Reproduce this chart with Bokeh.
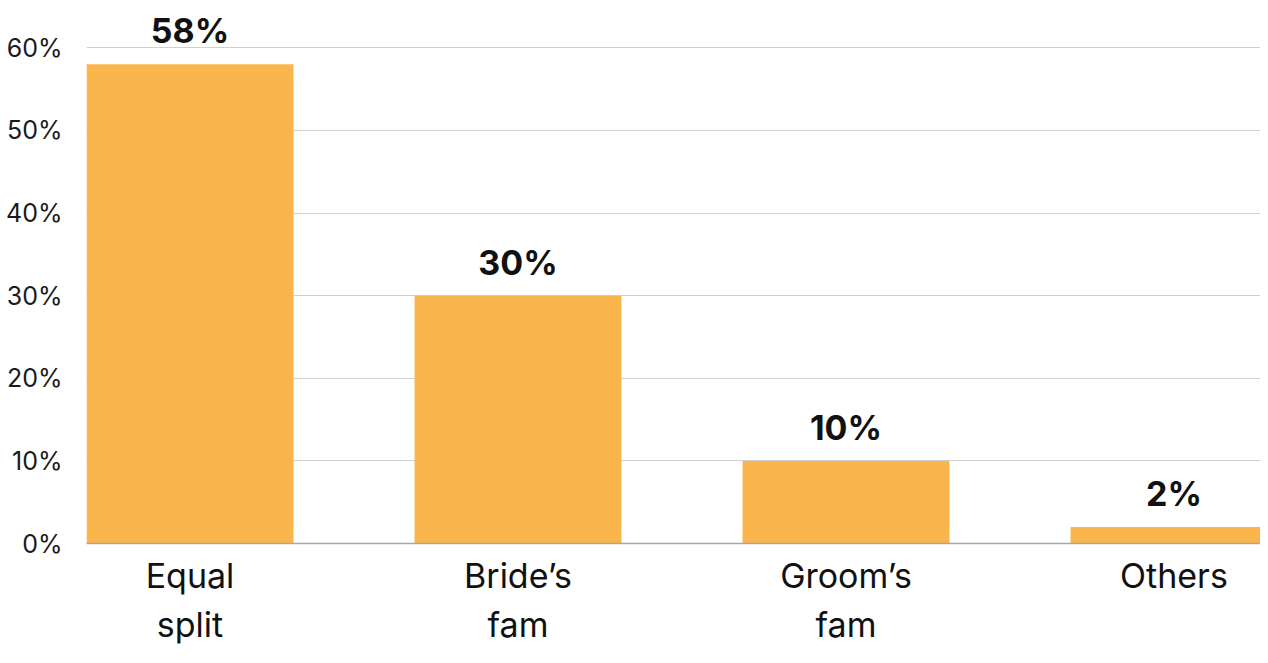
from bokeh.plotting import figure
from bokeh.models import ColumnDataSource, FixedTicker, Range1d, LabelSet
from bokeh.core.properties import value
from bokeh.embed import file_html
from bokeh.resources import INLINE

# ---- data ----
categories = ["Equal\nsplit", "Bride\u2019s\nfam", "Groom\u2019s\nfam", "Others"]
values = [58, 30, 10, 2]
value_labels = ["58%", "30%", "10%", "2%"]
y_ticks = [0, 10, 20, 30, 40, 50, 60]
y_tick_labels = ["0%", "10%", "20%", "30%", "40%", "50%", "60%"]

xs = list(range(len(categories)))
src = ColumnDataSource(dict(x=xs, top=values, label=value_labels))

FONT = "Inter"

p = figure(
    width=1260, height=647,
    x_range=Range1d(-0.3155, 3.2638), y_range=Range1d(0, 65.72),
    output_backend="svg", toolbar_location=None,
    min_border_left=86, min_border_right=0, min_border_top=0, min_border_bottom=100,
)
p.outline_line_color = None
p.background_fill_color = "white"
p.border_fill_color = "white"

p.vbar(x="x", top="top", width=0.631, bottom=0, source=src,
       fill_color="#FBB54D", line_color=None)

labels = LabelSet(x="x", y="top", text="label", source=src,
                  text_align="center", text_baseline="bottom", y_offset=13,
                  text_font=value(FONT), text_font_style="bold", text_font_size="34px",
                  text_color="#111111")
p.add_layout(labels)

# y axis
p.yaxis.ticker = FixedTicker(ticks=y_ticks)
p.yaxis.major_label_overrides = {t: l for t, l in zip(y_ticks, y_tick_labels)}
p.yaxis.axis_line_color = None
p.yaxis.major_tick_line_color = None
p.yaxis.minor_tick_line_color = None
p.yaxis.major_label_text_font = FONT
p.yaxis.major_label_text_font_size = "25px"
p.yaxis.major_label_text_color = "#1a1a1a"
p.yaxis.major_label_standoff = 18

# x axis with two-line category names
p.xaxis.ticker = FixedTicker(ticks=xs)
p.xaxis.major_label_overrides = {x: c for x, c in zip(xs, categories)}
p.xaxis.axis_line_color = "#a6a6a6"
p.xaxis.axis_line_width = 1.5
p.xaxis.major_tick_line_color = None
p.xaxis.minor_tick_line_color = None
p.xaxis.major_label_text_font = FONT
p.xaxis.major_label_text_font_size = "34px"
p.xaxis.major_label_text_color = "#111111"
p.xaxis.major_label_text_line_height = 1.2
p.xaxis.major_label_standoff = 5

p.xgrid.grid_line_color = None
p.ygrid.ticker = FixedTicker(ticks=y_ticks[1:])
p.ygrid.grid_line_color = "#d0d0d0"
p.ygrid.grid_line_width = 1

open("out.html", "w").write(file_html(p, INLINE))
